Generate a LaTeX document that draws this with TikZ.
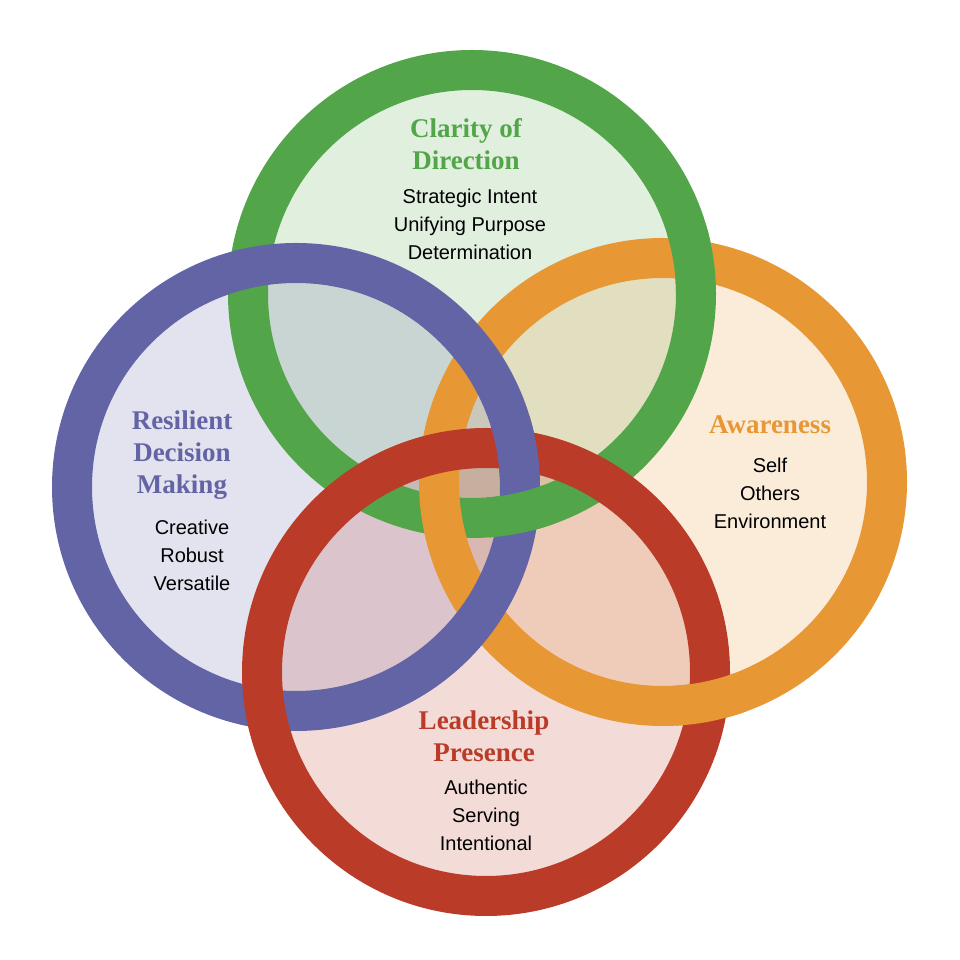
\documentclass[tikz,border=0pt]{standalone}
\usepackage{fontspec}
\setmainfont{Liberation Serif}
\setsansfont{Liberation Sans}
\usepackage{xcolor}
\usetikzlibrary{calc}
\definecolor{ringgreen}{RGB}{82,165,72}
\definecolor{ringorange}{RGB}{231,151,52}
\definecolor{ringpurple}{RGB}{98,100,165}
\definecolor{ringred}{RGB}{186,59,39}
\tikzset{
  ring/.style={line width=40pt},
  tint/.style={fill=#1, fill opacity=0.18},
  title/.style={font=\fontsize{27}{32}\selectfont\bfseries, align=center, inner sep=0pt},
  body/.style={font=\sffamily\fontsize{20}{28}\selectfont, align=center, inner sep=0pt}
}
\begin{document}
\begin{tikzpicture}[x=1pt,y=1pt]
\useasboundingbox (0,0) rectangle (960,960);
%Centres of the four rings
\coordinate (cg) at (472,666);
\coordinate (co) at (663,478);
\coordinate (cp) at (296,473);
\coordinate (cr) at (486,288);

%Shape: tinted discs
\fill [tint=ringgreen] (cg) circle (224);
\fill [tint=ringorange] (co) circle (224);
\fill [tint=ringpurple] (cp) circle (224);
\fill [tint=ringred] (cr) circle (224);

%Shape: rings, bottom to top
\draw [ring, ringgreen] (cg) circle (224);
\draw [ring, ringorange] (co) circle (224);
\draw [ring, ringpurple] (cp) circle (224);
\draw [ring, ringred] (cr) circle (224);

%Over-crossings that break the stacking order
\draw [ring, ringorange] ($(co)+(-87:224)$) arc (-87:-70:224);
\draw [ring, ringpurple] ($(cp)+(2:224)$) arc (2:17:224);
\draw [ring, ringgreen] ($(cg)+(0:224)$) arc (0:17:224);
\draw [ring, ringgreen] ($(cg)+(-86:224)$) arc (-86:-70:224);

% Text Node
\node [title, text=ringgreen] (clarity) at (466,816) {Clarity of\\Direction};
\node [body] (claritytxt) at (470,736) {Strategic Intent\\Unifying Purpose\\Determination};
% Text Node
\node [title, text=ringorange] (aware) at (770,535) {Awareness};
\node [body] (awaretxt) at (770,467) {Self\\Others\\Environment};
% Text Node
\node [title, text=ringpurple] (resil) at (182,505) {Resilient\\Decision\\Making};
\node [body] (resiltxt) at (192,405) {Creative\\Robust\\Versatile};
% Text Node
\node [title, text=ringred] (lead) at (484,224) {Leadership\\Presence};
\node [body] (leadtxt) at (486,145) {Authentic\\Serving\\Intentional};
\end{tikzpicture}
\end{document}
